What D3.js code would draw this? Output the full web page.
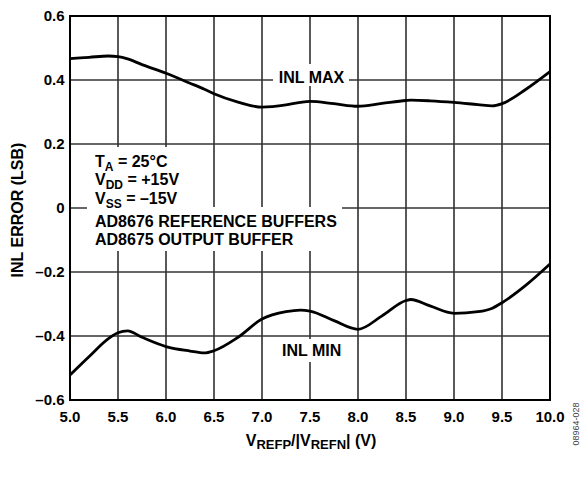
<!DOCTYPE html>
<html>
<head>
<meta charset="utf-8">
<script src="https://cdn.jsdelivr.net/npm/d3@7"></script>
<style>
  html, body { margin: 0; padding: 0; background: #fff; }
  svg { display: block; }
  text { font-family: "Liberation Sans", Arial, Helvetica, sans-serif; font-weight: bold; fill: #000; }
</style>
</head>
<body>
<svg id="chart" width="580" height="489"></svg>
<script>
// Reference voltage sweep (V) and the measured INL extremes (LSB)
const vref = [5.0, 5.2, 5.4, 5.5, 5.6, 5.75, 6.0, 6.25, 6.4, 6.5, 6.75, 7.0, 7.25, 7.4, 7.5, 7.75, 8.0, 8.25, 8.5, 8.55, 8.75, 9.0, 9.25, 9.4, 9.5, 9.75, 10.0];
const inlMax = [0.467, 0.471, 0.475, 0.473, 0.466, 0.448, 0.421, 0.390, 0.371, 0.357, 0.331, 0.315, 0.322, 0.330, 0.333, 0.326, 0.318, 0.327, 0.336, 0.337, 0.335, 0.330, 0.323, 0.319, 0.326, 0.371, 0.426];
const inlMin = [-0.522, -0.464, -0.408, -0.390, -0.384, -0.404, -0.433, -0.447, -0.453, -0.446, -0.404, -0.347, -0.324, -0.319, -0.322, -0.352, -0.379, -0.337, -0.289, -0.286, -0.306, -0.329, -0.324, -0.313, -0.296, -0.241, -0.175];

const xTicks = [5.0, 5.5, 6.0, 6.5, 7.0, 7.5, 8.0, 8.5, 9.0, 9.5, 10.0];
const yTicks = [-0.6, -0.4, -0.2, 0, 0.2, 0.4, 0.6];
const yTickLabels = ["–0.6", "–0.4", "–0.2", "0", "0.2", "0.4", "0.6"];

const svg = d3.select("#chart");
const plotLeft = 70, plotRight = 550, plotTop = 16, plotBottom = 400;

const x = d3.scaleLinear().domain([5, 10]).range([plotLeft, plotRight]);
const y = d3.scaleLinear().domain([-0.6, 0.6]).range([plotBottom, plotTop]);

// grid
const grid = svg.append("g");
grid.selectAll("line.v").data(xTicks.slice(1, -1)).join("line")
  .attr("x1", d => x(d)).attr("x2", d => x(d))
  .attr("y1", plotTop).attr("y2", plotBottom)
  .attr("stroke", "#000").attr("stroke-width", 1.3);
grid.selectAll("line.h").data(yTicks.slice(1, -1)).join("line")
  .attr("x1", plotLeft).attr("x2", plotRight)
  .attr("y1", d => y(d)).attr("y2", d => y(d))
  .attr("stroke", "#333").attr("stroke-width", 1.3);

// frame
svg.append("rect")
  .attr("x", plotLeft).attr("y", plotTop)
  .attr("width", plotRight - plotLeft).attr("height", plotBottom - plotTop)
  .attr("fill", "none").attr("stroke", "#000").attr("stroke-width", 2);

// tick labels
svg.append("g").selectAll("text").data(xTicks).join("text")
  .attr("x", d => x(d)).attr("y", 422)
  .attr("text-anchor", "middle").attr("font-size", 15)
  .text(d => d.toFixed(1));
svg.append("g").selectAll("text").data(yTicks).join("text")
  .attr("x", 64.5).attr("y", d => y(d)).attr("dy", "0.36em")
  .attr("text-anchor", "end").attr("font-size", 15)
  .text((d, i) => yTickLabels[i]);

// axis titles
svg.append("text")
  .attr("transform", "translate(22.5,210) rotate(-90)")
  .attr("text-anchor", "middle").attr("font-size", 16)
  .text("INL ERROR (LSB)");

const xt = svg.append("text")
  .attr("x", 311).attr("y", 445.7)
  .attr("text-anchor", "middle").attr("font-size", 16);
xt.append("tspan").text("V");
xt.append("tspan").attr("font-size", 13).attr("dy", 3.5).text("REFP");
xt.append("tspan").attr("dy", -3.5).text("/|V");
xt.append("tspan").attr("font-size", 13).attr("dy", 3.5).text("REFN");
xt.append("tspan").attr("dy", -3.5).text("| (V)");

// curves
const line = d3.line().x((d, i) => x(vref[i])).y(d => y(d)).curve(d3.curveMonotoneX);
[inlMax, inlMin].forEach(s => {
  svg.append("path").attr("d", line(s))
    .attr("fill", "none").attr("stroke", "#000").attr("stroke-width", 2.8)
    .attr("stroke-linejoin", "round");
});

// curve labels on white patches
function patchLabel(label, cx, baseline, box) {
  svg.append("rect").attr("x", box[0]).attr("y", box[1])
    .attr("width", box[2] - box[0]).attr("height", box[3] - box[1]).attr("fill", "#fff");
  svg.append("text").attr("x", cx).attr("y", baseline)
    .attr("text-anchor", "middle").attr("font-size", 16).text(label);
}
patchLabel("INL MAX", 311.5, 83.3, [273, 64, 349, 86]);
patchLabel("INL MIN", 311.7, 355.7, [276, 339, 347, 362]);

// test conditions
svg.append("rect").attr("x", 87).attr("y", 147).attr("width", 98).attr("height", 61).attr("fill", "#fff");
svg.append("rect").attr("x", 87).attr("y", 207).attr("width", 255).attr("height", 44).attr("fill", "#fff");

const cond = [
  { main: "T", sub: "A", rest: " = 25°C", yb: 166.5 },
  { main: "V", sub: "DD", rest: " = +15V", yb: 185 },
  { main: "V", sub: "SS", rest: " = –15V", yb: 203.5 },
  { main: "AD8676 REFERENCE BUFFERS", yb: 226.5 },
  { main: "AD8675 OUTPUT BUFFER", yb: 245 }
];
cond.forEach(c => {
  const t = svg.append("text").attr("x", 95).attr("y", c.yb).attr("font-size", 16);
  t.append("tspan").text(c.main);
  if (c.sub) {
    t.append("tspan").attr("font-size", 12).attr("dy", 4).text(c.sub);
    t.append("tspan").attr("dy", -4).text(c.rest);
  }
});

// figure code
svg.append("text")
  .attr("transform", "translate(579,424) rotate(-90)")
  .attr("text-anchor", "middle").attr("font-size", 9)
  .style("font-weight", "normal").style("fill", "#444")
  .text("08964-028");
</script>
</body>
</html>
